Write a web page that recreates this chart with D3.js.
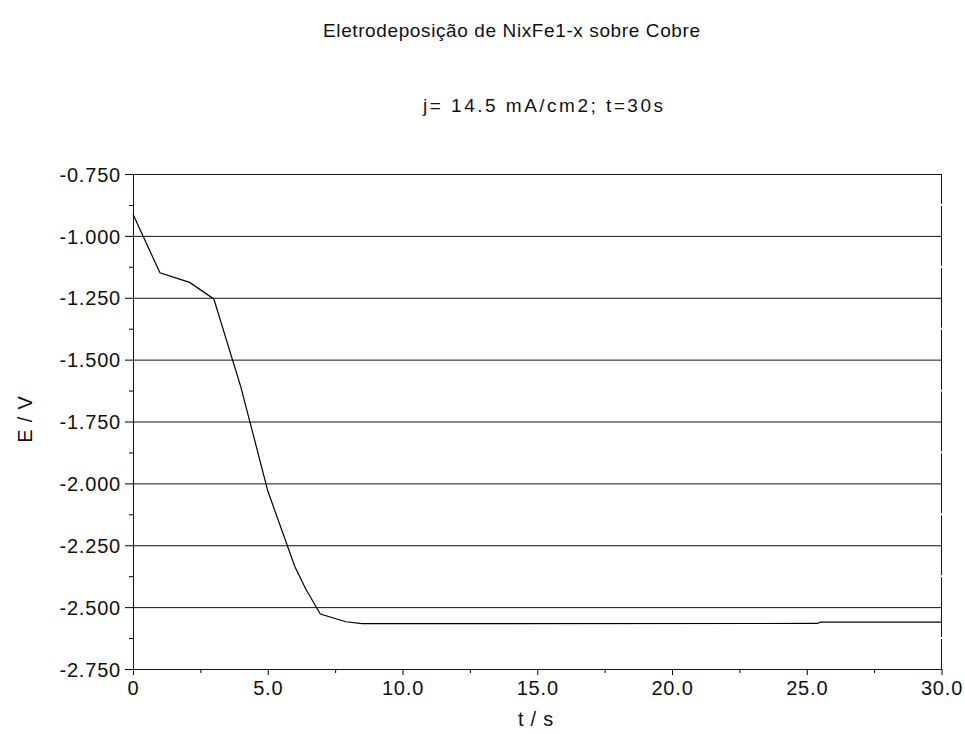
<!DOCTYPE html>
<html>
<head>
<meta charset="utf-8">
<script src="https://cdn.jsdelivr.net/npm/d3@7"></script>
<style>
  body { margin: 0; background: #fff; }
  text { font-family: "Liberation Sans", Arial, sans-serif; fill: #111; }
</style>
</head>
<body>
<div id="chart"></div>
<script>
// potential vs time
var times = [0, 1.0, 2.1, 3.0, 4.0, 5.0, 6.0, 6.4, 6.95, 7.9, 8.5, 25.4, 25.5, 30];
var potentials = [-0.913, -1.149, -1.188, -1.255, -1.61, -2.03, -2.335, -2.425, -2.528, -2.559, -2.567, -2.566, -2.561, -2.561];

var yTicks = [-0.75, -1.0, -1.25, -1.5, -1.75, -2.0, -2.25, -2.5, -2.75];
var yTickLabels = ["-0.750", "-1.000", "-1.250", "-1.500", "-1.750", "-2.000", "-2.250", "-2.500", "-2.750"];
var xTicks = [0, 5, 10, 15, 20, 25, 30];
var xTickLabels = ["0", "5.0", "10.0", "15.0", "20.0", "25.0", "30.0"];

var title = "Eletrodeposição de NixFe1-x sobre Cobre";
var subtitle = "j= 14.5 mA/cm2; t=30s";

function init() {
    var w = 965;
    var h = 734;
    var left = 133, right = 941.5, top = 174, bottom = 669;

    var svg = d3.select("#chart")
                .append("svg")
                .attr("width", w)
                .attr("height", h);

    var x = d3.scaleLinear().domain([0, 30]).range([left, right]);
    var y = d3.scaleLinear().domain([-0.75, -2.75]).range([top, bottom]);

    // horizontal gridlines
    svg.append("g")
       .attr("transform", "translate(" + left + ",0)")
       .call(d3.axisRight(y).tickValues(yTicks).tickSize(right - left).tickFormat(""))
       .call(function(g) { g.select(".domain").remove(); })
       .selectAll("line").attr("stroke", "#111");

    // minor y ticks (outside)
    var yMinor = yTicks.slice(0, -1).map(function(d) { return d - 0.125; });
    svg.append("g")
       .attr("transform", "translate(" + left + ",0)")
       .call(d3.axisLeft(y).tickValues(yMinor).tickSize(4).tickFormat(""))
       .call(function(g) { g.select(".domain").remove(); });

    // left axis with labels
    var yAxis = svg.append("g")
       .attr("transform", "translate(" + left + ",0)")
       .call(d3.axisLeft(y).tickValues(yTicks).tickSize(8).tickPadding(4)
             .tickFormat(function(d, i) { return yTickLabels[i]; }));
    yAxis.select(".domain").attr("stroke", "#111");
    yAxis.selectAll("text")
         .attr("font-size", "20px")
         .attr("letter-spacing", "0.8px")
         .attr("dy", "0.36em");

    // right axis line
    svg.append("line")
       .attr("x1", right).attr("x2", right)
       .attr("y1", top).attr("y2", bottom)
       .attr("stroke", "#111");
    svg.selectAll("rect.gap")
       .data(yMinor)
       .enter()
       .append("rect")
       .attr("class", "gap")
       .attr("x", right - 1).attr("width", 2)
       .attr("y", function(d) { return y(d) - 1; })
       .attr("height", 2)
       .attr("fill", "#fff");

    // x axis
    var xAxis = svg.append("g")
       .attr("transform", "translate(0," + bottom + ")")
       .call(d3.axisBottom(x).tickValues(xTicks).tickSize(6).tickPadding(4)
             .tickFormat(function(d, i) { return xTickLabels[i]; }));
    xAxis.select(".domain").remove();
    xAxis.selectAll("text")
         .attr("font-size", "20px")
         .attr("letter-spacing", "0.8px")
         .attr("dy", "0.78em");
    var xMinor = xTicks.slice(0, -1).map(function(d) { return d + 2.5; });
    svg.append("g")
       .attr("transform", "translate(0," + bottom + ")")
       .call(d3.axisBottom(x).tickValues(xMinor).tickSize(4).tickFormat(""))
       .call(function(g) { g.select(".domain").remove(); });

    // curve
    var line = d3.line()
                 .x(function(d, i) { return x(times[i]); })
                 .y(function(d) { return y(d); });
    svg.append("path")
       .datum(potentials)
       .attr("fill", "none")
       .attr("stroke", "#000")
       .attr("stroke-width", 1.2)
       .attr("d", line);

    // titles
    svg.append("text")
       .attr("x", 323).attr("y", 37)
       .attr("font-size", "19px")
       .attr("textLength", 377)
       .attr("lengthAdjust", "spacing")
       .text(title);
    svg.append("text")
       .attr("x", 423).attr("y", 112)
       .attr("font-size", "19px")
       .attr("textLength", 240)
       .attr("lengthAdjust", "spacing")
       .text(subtitle);

    // axis labels
    svg.append("text")
       .attr("x", 536).attr("y", 726)
       .attr("text-anchor", "middle")
       .attr("font-size", "20px")
       .attr("letter-spacing", "0.8px")
       .text("t / s");
    svg.append("text")
       .attr("transform", "translate(32,419) rotate(-90)")
       .attr("text-anchor", "middle")
       .attr("font-size", "20px")
       .attr("letter-spacing", "0.8px")
       .text("E / V");
}

window.onload = init;
</script>
</body>
</html>
